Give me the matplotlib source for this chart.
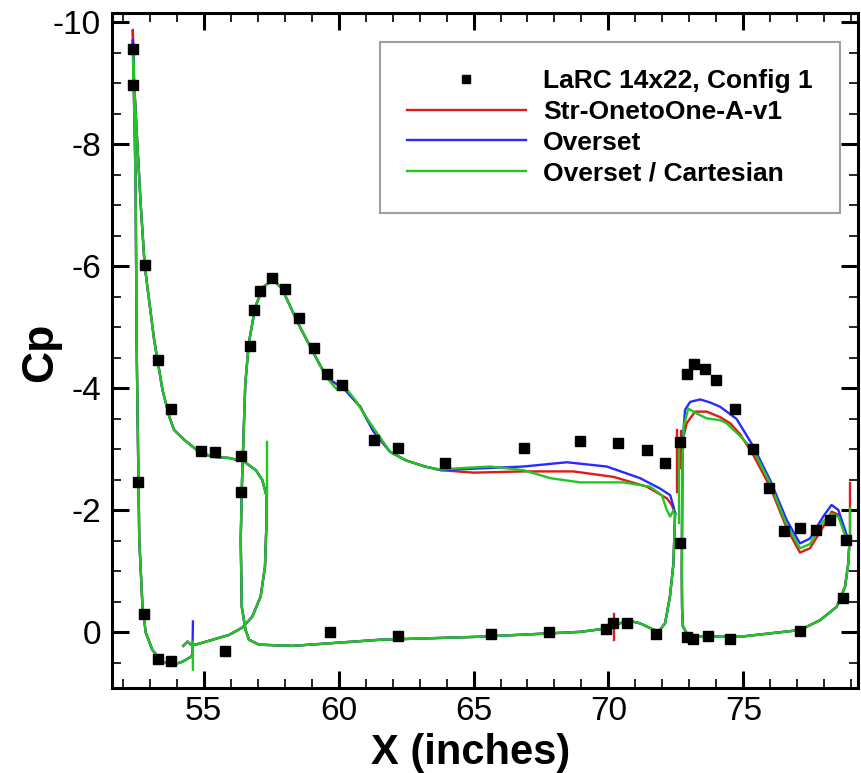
import matplotlib
matplotlib.use("Agg")
import matplotlib.pyplot as plt
from matplotlib.ticker import MultipleLocator

plt.rcParams['axes.unicode_minus'] = False

# wind tunnel data (LaRC 14x22, Config 1)
exp_x = [52.39, 52.39, 52.84, 53.30, 53.77, 54.90, 55.40, 56.38,
         52.56, 52.78, 53.30, 53.80, 55.77, 56.38,
         56.70, 56.88, 57.08, 57.53, 58.03, 58.52, 59.07, 59.57, 60.13,
         61.30, 62.20, 63.93, 66.86, 68.96, 70.36, 71.43, 72.10, 72.65,
         59.68, 62.20, 65.63, 67.80, 69.90, 70.18, 70.69, 71.76,
         72.65, 72.90, 73.17, 73.57, 73.98, 74.68, 75.35, 75.96, 76.50,
         77.10, 77.70, 78.23, 78.80, 78.68, 77.10, 74.50, 73.70, 73.14, 72.90]
exp_cp = [-9.57, -8.97, -6.03, -4.46, -3.67, -2.98, -2.96, -2.89,
          -2.47, -0.31, 0.44, 0.47, 0.30, -2.31,
          -4.70, -5.28, -5.60, -5.81, -5.63, -5.15, -4.66, -4.24, -4.06,
          -3.15, -3.02, -2.78, -3.02, -3.14, -3.11, -2.99, -2.78, -3.12,
          0.00, 0.05, 0.03, -0.01, -0.06, -0.15, -0.16, 0.03,
          -1.47, -4.23, -4.40, -4.32, -4.14, -3.66, -3.00, -2.37, -1.66,
          -1.71, -1.68, -1.84, -1.52, -0.56, -0.02, 0.10, 0.06, 0.10, 0.07]

# slat (common to the three grids), upper surface TE -> LE, lower LE -> cusp
slat_up_x = [57.32, 57.17, 56.93, 56.50, 55.94, 55.32, 54.83, 54.27, 53.90,
             53.72, 53.47, 53.16, 52.81, 52.66, 52.54, 52.42]
slat_up_cp = [-2.25, -2.50, -2.66, -2.80, -2.86, -2.88, -2.96, -3.16, -3.32,
              -3.54, -3.98, -4.80, -6.02, -7.04, -8.00, -9.00]
slat_lo_x = [52.45, 52.48, 52.51, 52.61, 52.73, 52.85, 53.10, 53.47, 53.84,
             54.21, 54.52, 54.58]
slat_lo_cp = [-8.00, -7.04, -4.80, -1.52, -0.42, 0.00, 0.29, 0.48, 0.53,
              0.48, 0.40, 0.36]
slat_tip_x = 52.37
red_tip, blue_tip, green_tip = -9.88, -9.72, -9.55

cove_x = [54.24, 54.40, 54.52, 54.70, 55.32, 55.94, 56.43, 56.80, 57.11,
          57.27, 57.32, 57.32]
cove_cp = [0.22, 0.15, 0.20, 0.20, 0.12, 0.04, -0.08, -0.26, -0.59,
           -1.08, -1.73, -2.23]

# main element, common part: upper from x=59.6 round the LE, then lower to TE
main_x = [59.57, 59.01, 58.46, 57.90, 57.57, 57.22, 56.91, 56.67, 56.54,
          56.42, 56.37, 56.41, 56.55, 56.68, 57.05, 58.29, 61.52, 65.25,
          68.96, 70.00, 70.19, 70.68, 71.17, 71.85, 72.10, 72.28, 72.41, 72.47]
main_cp = [-4.17, -4.63, -5.10, -5.64, -5.78, -5.67, -5.34, -4.74, -4.08,
           -2.50, -1.52, -0.42, -0.04, 0.12, 0.20, 0.22, 0.12, 0.07,
           -0.01, -0.07, -0.10, -0.20, -0.15, -0.01, -0.15, -0.59, -1.13, -1.95]

# main element upper surface, TE -> x=59.6
red_main_x = [72.47, 72.35, 72.16, 71.42, 70.19, 68.70, 66.85, 65.00, 63.80,
              63.20, 62.50, 61.91, 61.30, 60.80, 60.19, 59.57]
red_main_cp = [-1.95, -2.09, -2.20, -2.39, -2.55, -2.64, -2.64, -2.62, -2.66,
               -2.72, -2.82, -2.96, -3.29, -3.70, -4.00, -4.17]
blue_main_x = [72.47, 72.42, 72.29, 71.91, 71.17, 69.94, 68.46, 66.85, 65.25,
               63.80, 63.20, 62.50, 61.91, 61.30, 60.80, 60.19, 59.57]
blue_main_cp = [-1.95, -2.05, -2.25, -2.36, -2.53, -2.72, -2.79, -2.72, -2.69,
                -2.66, -2.72, -2.82, -2.96, -3.29, -3.70, -4.00, -4.17]
green_main_x = [72.41, 72.29, 72.16, 71.98, 71.54, 70.56, 68.95, 67.84, 66.85,
                65.62, 64.39, 63.80, 63.20, 62.50, 61.91, 61.17, 60.60, 60.31,
                59.94, 59.57]
green_main_cp = [-2.00, -1.90, -2.01, -2.25, -2.39, -2.46, -2.46, -2.53, -2.66,
                 -2.72, -2.69, -2.67, -2.72, -2.82, -2.96, -3.43, -3.82, -3.98,
                 -3.98, -4.17]

# flap lower surface LE -> TE (common)
flap_lo_x = [72.74, 72.72, 72.73, 72.76, 72.90, 73.27, 74.14, 74.88, 77.10,
             77.84, 78.46, 78.77, 78.89, 78.93]
flap_lo_cp = [-2.80, -1.00, -0.40, -0.10, 0.01, 0.06, 0.07, 0.07, -0.04,
              -0.20, -0.42, -0.75, -1.13, -1.46]

# flap upper surface TE -> LE
red_flap_x = [78.93, 78.89, 78.52, 78.27, 77.96, 77.47, 77.10, 76.61, 75.99,
              75.37, 74.88, 74.51, 74.14, 73.64, 73.21, 72.90, 72.78, 72.74]
red_flap_cp = [-1.46, -1.46, -1.93, -1.98, -1.73, -1.38, -1.31, -1.71, -2.39,
               -2.91, -3.25, -3.43, -3.53, -3.62, -3.62, -3.43, -3.20, -2.80]
blue_flap_x = [78.93, 78.89, 78.52, 78.27, 77.96, 77.47, 77.10, 76.61, 75.99,
               75.37, 74.75, 74.14, 73.77, 73.40, 73.03, 72.84, 72.78, 72.74]
blue_flap_cp = [-1.46, -1.52, -2.01, -2.09, -1.90, -1.54, -1.46, -1.84, -2.50,
                -3.05, -3.50, -3.70, -3.77, -3.82, -3.78, -3.65, -3.30, -2.80]
green_flap_x = [78.93, 78.89, 78.52, 78.27, 77.96, 77.47, 77.10, 76.61, 75.99,
                75.37, 74.88, 74.38, 74.14, 73.64, 73.27, 72.96, 72.80, 72.74]
green_flap_cp = [-1.46, -1.46, -1.90, -1.95, -1.82, -1.45, -1.38, -1.76, -2.45,
                 -2.99, -3.22, -3.43, -3.48, -3.51, -3.59, -3.67, -3.40, -2.80]

# small spikes at zone / trailing edge points: (x0, cp0, x1, cp1)
red_spikes = [(70.19, -0.30, 70.19, 0.12), (72.53, -3.32, 72.53, -2.30),
              (72.70, -3.30, 72.70, -2.70), (78.95, -1.46, 78.95, -2.45)]
blue_spikes = [(54.58, 0.36, 54.60, -0.18)]
green_spikes = [(54.58, 0.15, 54.60, 0.61), (57.33, -2.23, 57.33, -3.13),
                (72.63, -3.16, 72.63, -1.80), (78.95, -1.46, 78.95, -2.04)]

series = [
    ("Str-OnetoOne-A-v1", "#e01a1a", red_tip, red_main_x, red_main_cp,
     red_flap_x, red_flap_cp, red_spikes),
    ("Overset", "#2a2aff", blue_tip, blue_main_x, blue_main_cp,
     blue_flap_x, blue_flap_cp, blue_spikes),
    ("Overset / Cartesian", "#1ec81e", green_tip, green_main_x, green_main_cp,
     green_flap_x, green_flap_cp, green_spikes),
]

fig = plt.figure(figsize=(8.61, 7.73), dpi=100)
ax = fig.add_axes([0.1301, 0.1100, 0.8664, 0.8736])

ax.plot(exp_x, exp_cp, 's', color='black', markersize=7.5,
        label="LaRC 14x22, Config 1", zorder=5)

lw = 1.7
for name, col, tip, mx, mcp, fx, fcp, spikes in series:
    sx = slat_up_x + [slat_tip_x] + slat_lo_x
    scp = slat_up_cp + [tip] + slat_lo_cp
    ax.plot(sx, scp, color=col, lw=lw, label=name)
    ax.plot(cove_x, cove_cp, color=col, lw=lw)
    ax.plot(mx + main_x, mcp + main_cp, color=col, lw=lw)
    ax.plot(fx + flap_lo_x, fcp + flap_lo_cp, color=col, lw=lw)
    for x0, c0, x1, c1 in spikes:
        ax.plot([x0, x1], [c0, c1], color=col, lw=lw)

ax.set_xlim(51.6, 79.25)
ax.set_ylim(0.91, -10.16)

ax.xaxis.set_major_locator(MultipleLocator(5))
ax.xaxis.set_minor_locator(MultipleLocator(1))
ax.yaxis.set_major_locator(MultipleLocator(2))
ax.yaxis.set_minor_locator(MultipleLocator(0.5))
ax.tick_params(which='both', direction='in', top=True, right=True)
ax.tick_params(which='major', length=12, width=2.2)
ax.tick_params(which='minor', length=6.5, width=1.2)
ax.tick_params(axis='x', which='major', pad=6)
ax.tick_params(axis='y', which='major', pad=8)
for lab in ax.get_xticklabels() + ax.get_yticklabels():
    lab.set_fontfamily('Liberation Sans')
    lab.set_fontsize(24)
for sp in ax.spines.values():
    sp.set_linewidth(2.2)

ax.set_xlabel("X (inches)", fontfamily='Liberation Sans', fontweight='bold',
              fontsize=30)
ax.set_ylabel("Cp", fontfamily='Liberation Sans', fontweight='bold',
              fontsize=32)
ax.xaxis.set_label_coords(0.481, -0.066)
ax.yaxis.set_label_coords(-0.068, 0.4976)

leg = ax.legend(loc='upper right', bbox_to_anchor=(0.976, 0.9566),
                bbox_transform=ax.transAxes, borderaxespad=0,
                prop={'family': 'Liberation Sans', 'weight': 'bold', 'size': 19},
                frameon=True, fancybox=False, edgecolor='#888888',
                handlelength=4.5, handletextpad=0.65, labelspacing=0.25,
                borderpad=1.04, numpoints=1, markerscale=0.8)
leg.get_frame().set_linewidth(1.5)

fig.savefig("out.png", dpi=100)
